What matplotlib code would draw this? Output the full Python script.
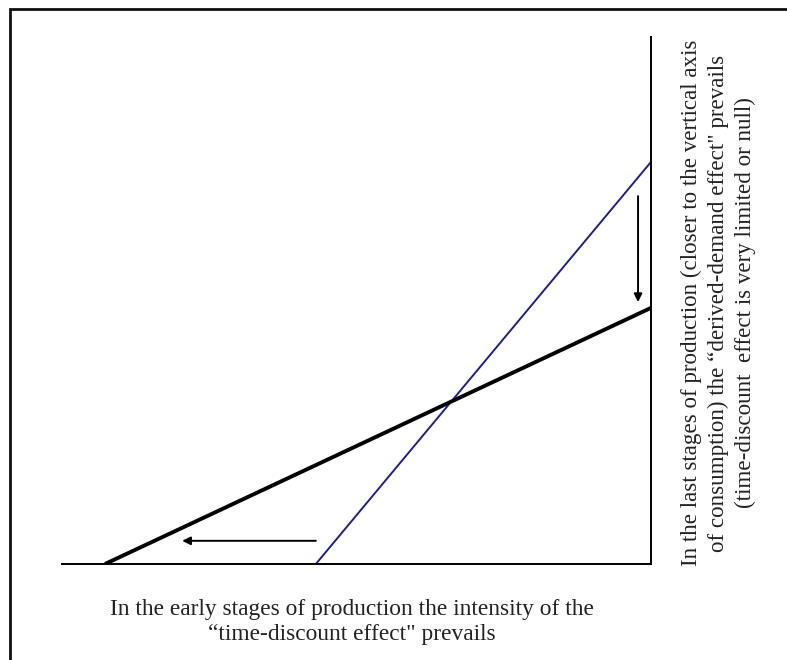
import matplotlib.pyplot as plt
from matplotlib.patches import Rectangle

# conceptual coordinates: 0..100 along each axis (origin bottom-left, vertical axis on the right)
black_x = [7.3, 100]
black_y = [0, 48.6]
blue_x = [43.1, 100]
blue_y = [0, 76.3]

# arrows: (start, end)
left_arrow = [(43.1, 4.4), (20.4, 4.4)]
down_arrow = [(97.8, 69.8), (97.8, 49.7)]

bottom_text = 'In the early stages of production the intensity of the\n\u201ctime-discount effect" prevails'
right_text = ('In the last stages of production (closer to the vertical axis\n'
              'of consumption) the \u201cderived-demand effect" prevails\n'
              '(time-discount  effect is very limited or null)')

plt.rcParams['font.family'] = ['Liberation Serif', 'DejaVu Serif']

fig = plt.figure(figsize=(7.87, 6.6), dpi=100)
ax = fig.add_axes([62/787, 1 - 564/660, 589/787, 527/660])
ax.set_xlim(0, 100)
ax.set_ylim(0, 100)
ax.set_xticks([])
ax.set_yticks([])
ax.spines['top'].set_visible(False)
ax.spines['left'].set_visible(False)
ax.spines['bottom'].set_linewidth(1.4)
ax.spines['right'].set_linewidth(1.4)
ax.patch.set_alpha(0)

ax.plot(blue_x, blue_y, color='#1f1f8a', lw=1.4, solid_capstyle='butt')
ax.plot(black_x, black_y, color='black', lw=2.8, solid_capstyle='butt')

for (x0, y0), (x1, y1) in [left_arrow, down_arrow]:
    ax.annotate('', xy=(x1, y1), xytext=(x0, y0),
                arrowprops=dict(arrowstyle='-|>', color='black', lw=1.4,
                                mutation_scale=12, shrinkA=0, shrinkB=0))

fig.text(352/787, 1 - 622/660, bottom_text, ha='center', va='center',
         fontsize=16.8, linespacing=1.2, color='#222222')
fig.text(718/787, 1 - 303/660, right_text, ha='center', va='center',
         rotation=90, fontsize=16.6, linespacing=1.36, color='#222222')

# outer frame
fig.patches.append(Rectangle((10/787, -0.1), 1.2, 1 - 9/660 + 0.1,
                             transform=fig.transFigure, fill=False,
                             edgecolor='#111111', lw=2))

fig.savefig('out.png', dpi=100)
